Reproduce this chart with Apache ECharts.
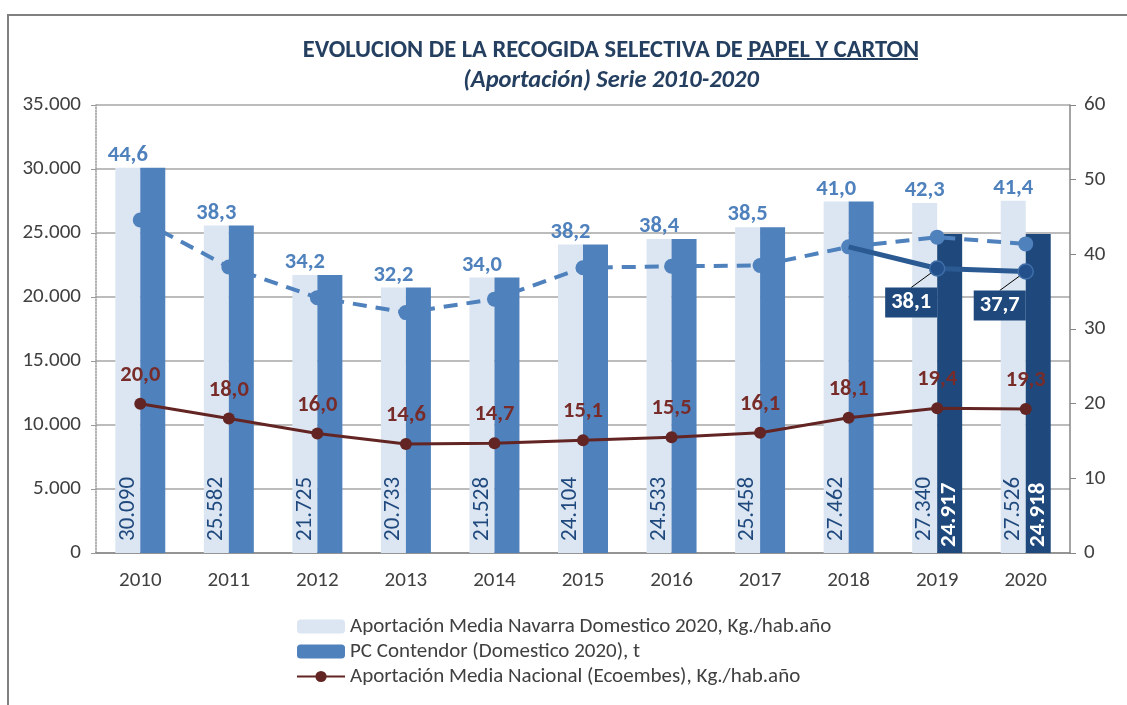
<!DOCTYPE html>
<html>
<head>
<meta charset="utf-8">
<script src="https://cdn.jsdelivr.net/npm/echarts@6/dist/echarts.min.js"></script>
<style>
html,body{margin:0;padding:0;background:#fff;}
#c{width:1127px;height:705px;}
</style>
</head>
<body>
<div id="c"></div>
<script>
// ---- data ----
var years = ['2010','2011','2012','2013','2014','2015','2016','2017','2018','2019','2020'];
var navarraBar = [30090,25582,21725,20733,21528,24104,24533,25458,27462,27340,27526];
var contenedorBar = [30090,25582,21725,20733,21528,24104,24533,25458,27462,24917,24918];
var highlightYears = ['2019','2020'];
var navarraLine = [44.6,38.3,34.2,32.2,34.0,38.2,38.4,38.5,41.0,42.3,41.4];
var contenedorLine = [null,null,null,null,null,null,null,null,41.0,38.1,37.7];
var nacionalLine = [20.0,18.0,16.0,14.6,14.7,15.1,15.5,16.1,18.1,19.4,19.3];
var leftTicks = [0,5000,10000,15000,20000,25000,30000,35000];
var rightTicks = [0,10,20,30,40,50,60];

var FONT = 'Carlito, Lato, "Open Sans", sans-serif';
function thou(n){ return String(n).replace(/\B(?=(\d{3})+(?!\d))/g,'.'); }
function dec(v){ return v == null ? '' : v.toFixed(1).replace('.', ','); }

var chart = echarts.init(document.getElementById('c'));

var contData = contenedorBar.map(function(v,i){
  var hl = highlightYears.indexOf(years[i]) >= 0;
  return {
    value: v,
    itemStyle: {color: hl ? '#1F497D' : '#4F81BD'},
    label: {show: hl}
  };
});
var firstCont = contenedorLine.findIndex(function(v){return v != null;});
var contLineData = contenedorLine.map(function(v,i){
  return i === firstCont ? {value: v, symbolSize: 0, label: {show: false}} : {value: v};
});

var option = {
  backgroundColor: '#fff',
  animation: false,
  textStyle: {fontFamily: FONT},
  title: [{
    text: 'EVOLUCION DE LA RECOGIDA SELECTIVA DE PAPEL Y CARTON',
    left: 606, top: 33, textAlign: 'center',
    textStyle: {fontFamily: FONT, fontSize: 24.5, fontWeight: 'bold', color: '#243F60'}
  },{
    text: '(Aportación) Serie 2010-2020',
    left: 606, top: 63, textAlign: 'center',
    textStyle: {fontFamily: FONT, fontSize: 24.5, fontWeight: 'bold', fontStyle: 'italic', color: '#243F60'}
  }],
  graphic: [{
    type: 'rect', silent: true,
    shape: {x: 8, y: 15, width: 1300, height: 900},
    style: {fill: null, stroke: '#808080', lineWidth: 2}
  },{
    type: 'line', silent: true,
    shape: {x1: 747, y1: 59, x2: 918, y2: 59},
    style: {stroke: '#243F60', lineWidth: 2}
  }],
  legend: {
    orient: 'vertical', left: 296, top: 616, padding: 0,
    itemWidth: 48, itemHeight: 14, itemGap: 4,
    textStyle: {fontFamily: FONT, fontSize: 21, color: '#404040'},
    data: ['Aportación Media Navarra Domestico 2020, Kg./hab.año', 'PC Contendor (Domestico 2020), t', 'Aportación Media Nacional (Ecoembes), Kg./hab.año']
  },
  grid: {left: 96, right: 57, top: 105, bottom: 152},
  xAxis: {
    type: 'category', data: years,
    axisLine: {lineStyle: {color: '#868686', width: 1.5}},
    axisTick: {length: 6, lineStyle: {color: '#868686'}},
    axisLabel: {fontFamily: FONT, fontSize: 21, color: '#404040', margin: 17}
  },
  yAxis: [{
    type: 'value', min: leftTicks[0], max: leftTicks[leftTicks.length-1], interval: leftTicks[1]-leftTicks[0],
    axisLine: {show: true, lineStyle: {color: '#9a9a9a', type: 'dotted', width: 1.5}},
    axisTick: {show: true, length: 5, lineStyle: {color: '#9a9a9a'}},
    axisLabel: {fontFamily: FONT, fontSize: 21, color: '#404040', margin: 15, formatter: function(v){return thou(v);}},
    splitLine: {lineStyle: {color: '#A6A6A6', width: 1.5}}
  },{
    type: 'value', min: rightTicks[0], max: rightTicks[rightTicks.length-1], interval: rightTicks[1]-rightTicks[0],
    position: 'right',
    axisLine: {show: true, lineStyle: {color: '#868686', width: 1.5}},
    axisTick: {show: true, length: 6, lineStyle: {color: '#868686'}},
    axisLabel: {fontFamily: FONT, fontSize: 21, color: '#404040', margin: 14},
    splitLine: {show: false}
  }],
  series: [{
    name: 'Aportación Media Navarra Domestico 2020, Kg./hab.año',
    type: 'bar', stack: 'nav', barWidth: 25, barGap: '0%',
    data: navarraBar,
    itemStyle: {color: '#DCE6F2'},
    label: {
      show: true, position: 'insideBottom', rotate: 90, align: 'left', verticalAlign: 'middle',
      distance: 12, fontFamily: FONT, fontSize: 23, color: '#1F497D',
      formatter: function(p){return thou(p.value);}
    },
    z: 2
  },{
    name: 'navTop',
    type: 'bar', stack: 'nav', barWidth: 25, barGap: '0%',
    data: navarraLine.map(function(){return 0;}),
    itemStyle: {color: 'rgba(0,0,0,0)'},
    label: {
      show: true, position: 'top', distance: 1,
      fontFamily: FONT, fontSize: 22.5, fontWeight: 'bold', color: '#4F81BD',
      formatter: function(p){return dec(navarraLine[p.dataIndex]);}
    },
    z: 2
  },{
    name: 'PC Contendor (Domestico 2020), t',
    type: 'bar', barWidth: 25, barGap: '0%',
    data: contData,
    itemStyle: {color: '#4F81BD'},
    label: {
      position: 'insideBottom', rotate: 90, align: 'left', verticalAlign: 'middle',
      distance: 6, fontFamily: FONT, fontSize: 23, fontWeight: 'bold', color: '#fff',
      formatter: function(p){return thou(p.value);}
    },
    z: 2
  },{
    name: 'contLine',
    type: 'line', yAxisIndex: 1,
    data: contLineData,
    symbol: 'circle', symbolSize: 15,
    lineStyle: {color: '#2B5A93', width: 5},
    itemStyle: {color: '#23508A', borderColor: '#3F6EA8', borderWidth: 1.5},
    label: {
      show: true, position: 'inside',
      fontFamily: FONT, fontSize: 22.5, fontWeight: 'bold', color: '#fff',
      backgroundColor: '#1F497D', padding: [4, 6, 3, 6],
      formatter: function(p){return dec(p.value);}
    },
    labelLayout: {dx: -26, dy: 34},
    labelLine: {show: true, lineStyle: {color: '#000', width: 1}},
    z: 5
  },{
    name: 'navLine',
    type: 'line', yAxisIndex: 1,
    data: navarraLine,
    symbol: 'circle', symbolSize: 15,
    lineStyle: {color: '#4F81BD', width: 4, type: [14, 9]},
    itemStyle: {color: '#4F81BD'},
    z: 4
  },{
    name: 'Aportación Media Nacional (Ecoembes), Kg./hab.año',
    type: 'line', yAxisIndex: 1,
    data: nacionalLine,
    symbol: 'circle', symbolSize: 12,
    lineStyle: {color: '#632523', width: 3},
    itemStyle: {color: '#632523'},
    label: {
      show: true, position: 'top', distance: 11,
      fontFamily: FONT, fontSize: 22.5, fontWeight: 'bold', color: '#772C2A',
      formatter: function(p){return dec(p.value);}
    },
    z: 6
  }]
};
chart.setOption(option);
</script>
</body>
</html>
